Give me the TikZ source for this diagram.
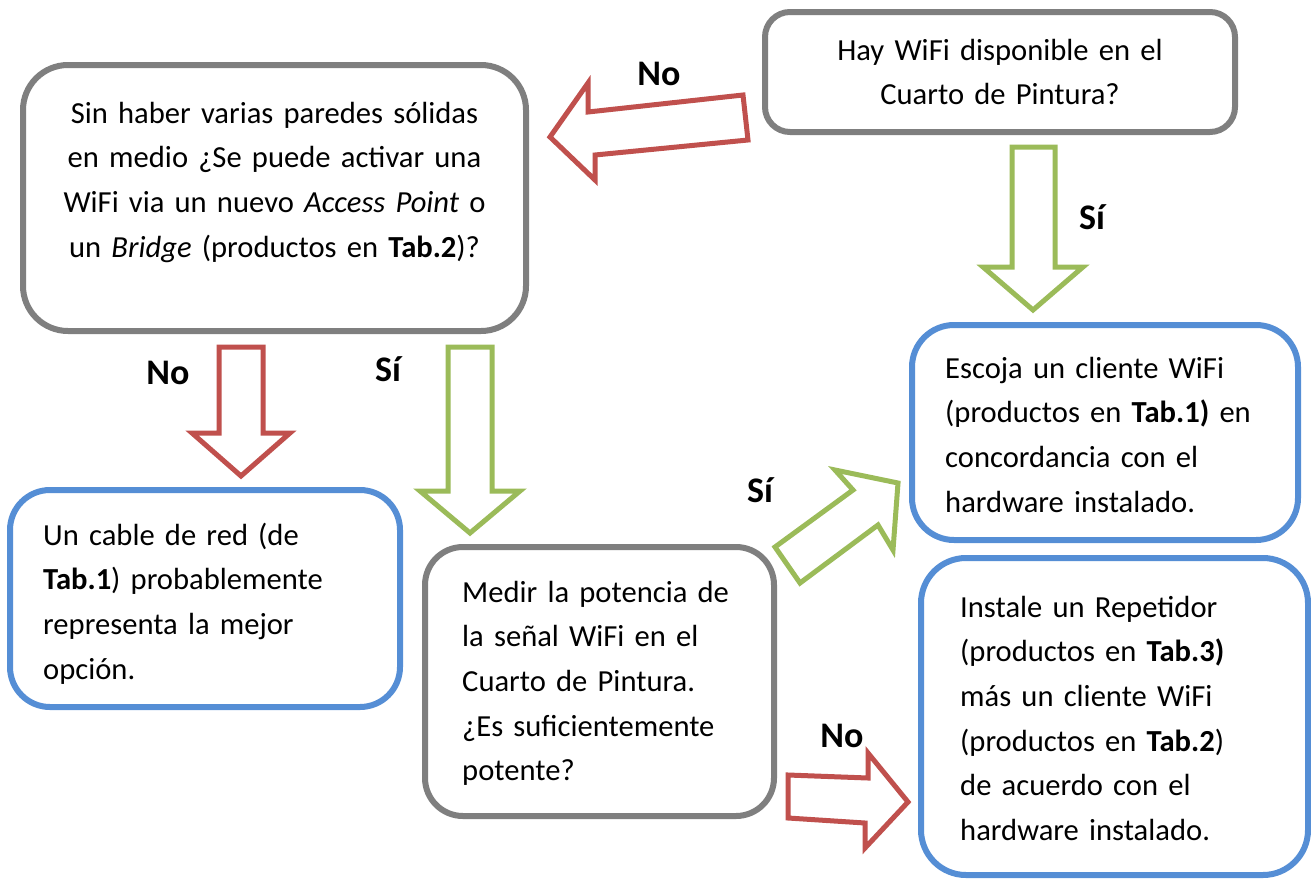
\documentclass[tikz,border=0pt]{standalone}
\usepackage{fontspec}
\setmainfont{Carlito}
\definecolor{boxgray}{HTML}{7F7F7F}
\definecolor{boxblue}{HTML}{558ED5}
\definecolor{arrred}{HTML}{C0504D}
\definecolor{arrgreen}{HTML}{9BBB59}
\tikzset{
  x=1pt, y=-1pt,
  graybox/.style={draw=boxgray, line width=6pt, rounded corners=#1, inner sep=0pt, fill=white},
  bluebox/.style={draw=boxblue, line width=6pt, rounded corners=#1, inner sep=0pt, fill=white},
  txt/.style={inner sep=0pt, font=\fontsize{30.6}{44.7}\selectfont, text width=#1},
  lbl/.style={inner sep=0pt, anchor=base, font=\fontsize{36}{40}\selectfont\bfseries},
  redarrow/.style={draw=arrred, line width=5pt, line join=miter, fill=white},
  greenarrow/.style={draw=arrgreen, line width=5pt, line join=miter, fill=white}
}
\begin{document}
\begin{tikzpicture}
\useasboundingbox (0,0) rectangle (1311,878);
% boxes
\node[graybox=25pt, minimum width=470pt, minimum height=120pt] (b1) at (1000,72) {};
\node[graybox=45pt, minimum width=503pt, minimum height=266pt] (b2) at (274.5,198) {};
\node[bluebox=40pt, minimum width=390pt, minimum height=217pt] (b3) at (205,598.5) {};
\node[graybox=38pt, minimum width=349pt, minimum height=269pt] (b4) at (599.5,681.5) {};
\node[bluebox=42pt, minimum width=386pt, minimum height=215pt] (b5) at (1105,432.5) {};
\node[bluebox=45pt, minimum width=387pt, minimum height=317pt] (b6) at (1114.5,716.5) {};
% texts
\node[txt=460pt, align=center, anchor=base] (t1) at (1000,60)
  {Hay WiFi disponible en el\\Cuarto de Pintura?};
\node[txt=480pt, align=center, anchor=base] (t2) at (274.5,123)
  {Sin haber varias paredes sólidas\\en medio ¿Se puede activar una\\WiFi via un nuevo \textit{Access Point} o\\un \textit{Bridge} (productos en \textbf{Tab.2})?};
\node[txt=350pt, align=left, anchor=base west] (t3) at (43,545)
  {Un cable de red (de\\\textbf{Tab.1}) probablemente\\representa la mejor\\opción.};
\node[txt=300pt, align=left, anchor=base west] (t4) at (462,602)
  {Medir la potencia de\\la señal WiFi en el\\Cuarto de Pintura.\\¿Es suficientemente\\potente?};
\node[txt=345pt, align=left, anchor=base west] (t5) at (945,378)
  {Escoja un cliente WiFi\\(productos en \textbf{Tab.1)} en\\concordancia con el\\hardware instalado.};
\node[txt=340pt, align=left, anchor=base west] (t6) at (960,617)
  {Instale un Repetidor\\(productos en \textbf{Tab.3)}\\más un cliente WiFi\\(productos en \textbf{Tab.2})\\de acuerdo con el\\hardware instalado.};
% block arrows
\draw[redarrow] (743,95) -- (748,140) -- (595,155) -- (595,180) -- (550,137) -- (588,83) -- (588,112) -- cycle;
\draw[greenarrow] (1012,147) -- (1055,147) -- (1055,267) -- (1083,267) -- (1033,310) -- (983,267) -- (1012,267) -- cycle;
\draw[redarrow] (219,347) -- (263,347) -- (263,433) -- (290,433) -- (241,476) -- (192,433) -- (219,433) -- cycle;
\draw[greenarrow] (448,347) -- (492,347) -- (492,491) -- (520,491) -- (470,533) -- (420,491) -- (448,491) -- cycle;
\draw[greenarrow] (775,547) -- (800,583) -- (878,525) -- (893,550) -- (898,483) -- (835,470) -- (853,490) -- cycle;
\draw[redarrow] (788,775) -- (788,818) -- (865,823) -- (865,848) -- (908,802) -- (868,753) -- (868,778) -- cycle;
% labels
\node[lbl] (l1) at (659,85) {No};
\node[lbl] (l2) at (1092,229) {Sí};
\node[lbl] (l3) at (168,384) {No};
\node[lbl] (l4) at (388,381) {Sí};
\node[lbl] (l5) at (760,502) {Sí};
\node[lbl] (l6) at (842,747) {No};
\end{tikzpicture}
\end{document}
